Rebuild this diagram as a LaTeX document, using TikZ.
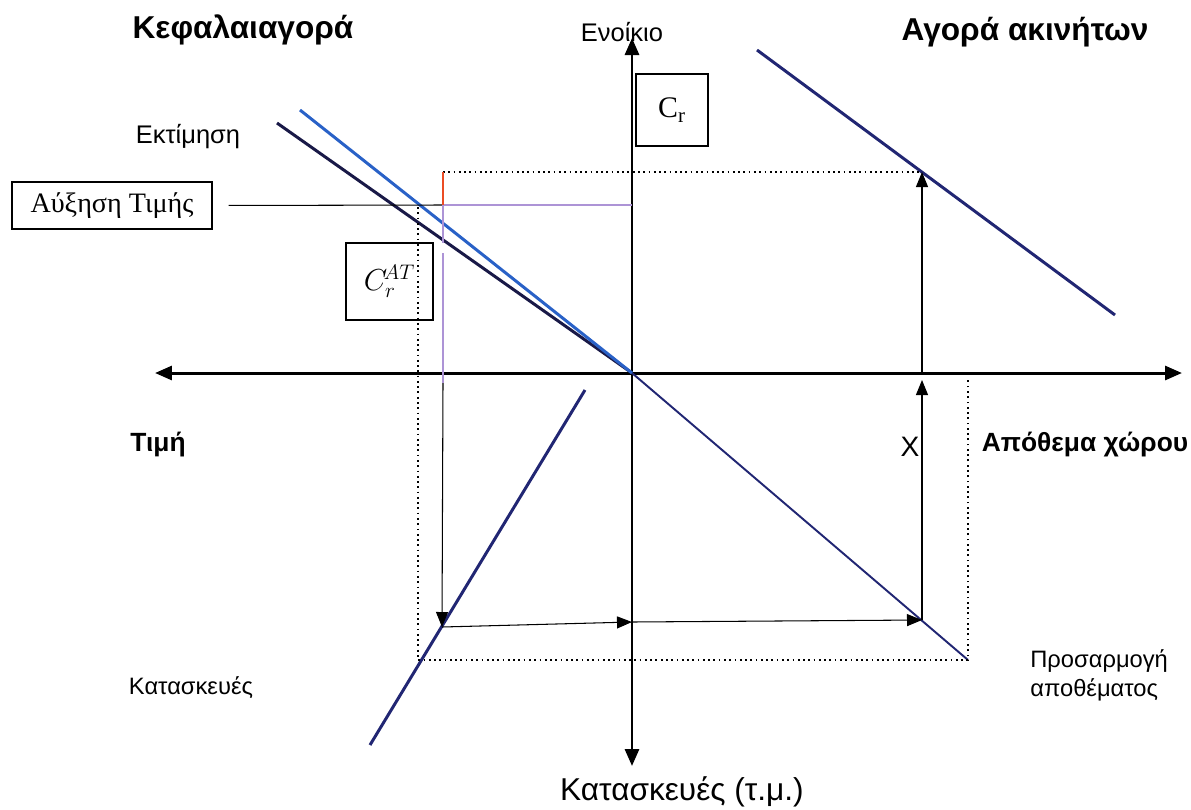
\documentclass[tikz,border=0pt]{standalone}
\usepackage{fontspec}
\setmainfont{Liberation Serif}
\setsansfont{Liberation Sans}
\usetikzlibrary{arrows.meta,positioning,calc}
\definecolor{ktnavy}{rgb}{0.13,0.15,0.45}
\definecolor{ktdark}{rgb}{0.10,0.10,0.28}
\definecolor{ktblue}{rgb}{0.16,0.38,0.78}
\definecolor{ktlilac}{rgb}{0.68,0.58,0.84}
\definecolor{ktred}{rgb}{0.92,0.30,0.14}

\begin{document}
\begin{tikzpicture}[
  x=0.02cm, y=-0.02cm,
  axis/.style={line width=1.7pt},
  tipa/.style={-{Triangle[length=3.4mm,width=2.8mm]}},
  curve/.style={ktnavy, line width=1.7pt},
  guide/.style={line width=0.6pt, -{Triangle[length=3mm,width=2.4mm]}},
  dots/.style={dotted, line width=1pt},
  ttl/.style={font=\sffamily\bfseries\fontsize{18}{21}\selectfont},
  bld/.style={font=\sffamily\bfseries\fontsize{15}{18}\selectfont},
  lbl/.style={font=\sffamily\fontsize{14.5}{17}\selectfont},
  tag/.style={draw, line width=0.6pt, inner sep=0pt}
]
\useasboundingbox (0,0) rectangle (1191,809);

% --- points ---
\coordinate (O) at (632,373);
\coordinate (xL) at (155,373);
\coordinate (xR) at (1182,373);
\coordinate (yT) at (632,38);
\coordinate (yB) at (632,766);
\coordinate (val0) at (277,123);
\coordinate (new0) at (300,110);
\coordinate (stk1) at (968,660);
\coordinate (dem0) at (757,50);
\coordinate (dem1) at (1115,315);
\coordinate (con0) at (585,390);
\coordinate (con1) at (370,745);
\coordinate (pTop) at (443,172);
\coordinate (pHi) at (443,205);
\coordinate (pRent) at (632,205);
\coordinate (pCut) at (443,243);
\coordinate (pCut2) at (443,253);
\coordinate (pAx) at (443,383);
\coordinate (pCon) at (442,627);
\coordinate (cAx) at (632,622);
\coordinate (sAdj) at (922,620);
\coordinate (sAx) at (922,380);
\coordinate (sBase) at (922,373);
\coordinate (sTop) at (922,172);
\coordinate (dLt) at (418,207);
\coordinate (dLb) at (418,660);
\coordinate (dRt) at (968,378);

% --- axes ---
\draw[axis, {Triangle[length=3.4mm,width=2.8mm]}-{Triangle[length=3.4mm,width=2.8mm]}] (xL) -- (xR);
\draw[axis, tipa] (O) -- (yT);
\draw[axis, tipa] (O) -- (yB);

% --- curves ---
\draw[ktdark, line width=1.7pt] (val0) -- (O);
\draw[ktnavy, line width=1.1pt] (O) -- (stk1);
\draw[ktblue, line width=1.7pt] (new0) -- (O);
\draw[curve] (dem0) -- (dem1);
\draw[curve] (con0) -- (con1);

% --- boxes and labels ---
\node[tag, minimum width=4cm, minimum height=0.94cm,
      font=\fontsize{16}{19}\selectfont] (aux) at (112,205.5) {Αύξηση Τιμής};
\node[tag, minimum width=1.44cm, minimum height=1.44cm,
      font=\fontsize{17}{20}\selectfont] (cr) at (672,110) {C\textsubscript{r}};
\node[tag, minimum width=1.74cm, minimum height=1.54cm,
      font=\fontsize{17}{20}\selectfont] (crat) at (389.5,281.5) {$C_r^{\!AT}$};

\node[ttl] (cap) at (243,30) {Κεφαλαιαγορά};
\node[ttl] (mkt) at (1025,32) {Αγορά ακινήτων};
\node[lbl] (rent) at (622,32) {Ενοίκιο};
\node[lbl] (est) at (188,137) {Εκτίμηση};
\node[bld] (price) at (158,445) {Τιμή};
\node[bld] (stock) at (1085,445) {Απόθεμα χώρου};
\node[lbl, font=\sffamily\fontsize{16}{19}\selectfont] (chi) at (910,447) {Χ};
\node[lbl, font=\sffamily\fontsize{13.5}{16}\selectfont] (cons) at (191,688) {Κατασκευές};
\node[lbl, font=\sffamily\fontsize{13.5}{16.5}\selectfont, align=left, anchor=west,
      inner sep=0pt] (adj) at (1030,675) {Προσαρμογή\\αποθέματος};
\node[lbl, font=\sffamily\fontsize{18}{21}\selectfont, inner sep=1pt] (area) at (682,792) {Κατασκευές (τ.μ.)};

% --- dotted frame ---
\draw[dots] (pTop) -- (sTop);
\draw[dots] (dLt) -- (dLb) -- (stk1) -- (dRt);

% --- price rise ---
\draw[line width=0.6pt, shorten <=0.32cm] (aux.east) -- (pHi);
\draw[ktlilac, line width=1.2pt] (pHi) -- (pRent);
\draw[ktred, line width=1.2pt] (pTop) -- (pHi);
\draw[ktlilac, line width=1.6pt] (pHi) -- (pCut);
\draw[ktlilac, line width=1pt] (pCut2) -- (pAx);

% --- adjustment path ---
\draw[guide] (pAx) -- (pCon);
\draw[guide] (pCon) -- (cAx);
\draw[guide] (cAx) -- (sAdj);
\draw[guide] (sAdj) -- (sAx);
\draw[guide] (sBase) -- (sTop);

\end{tikzpicture}
\end{document}
